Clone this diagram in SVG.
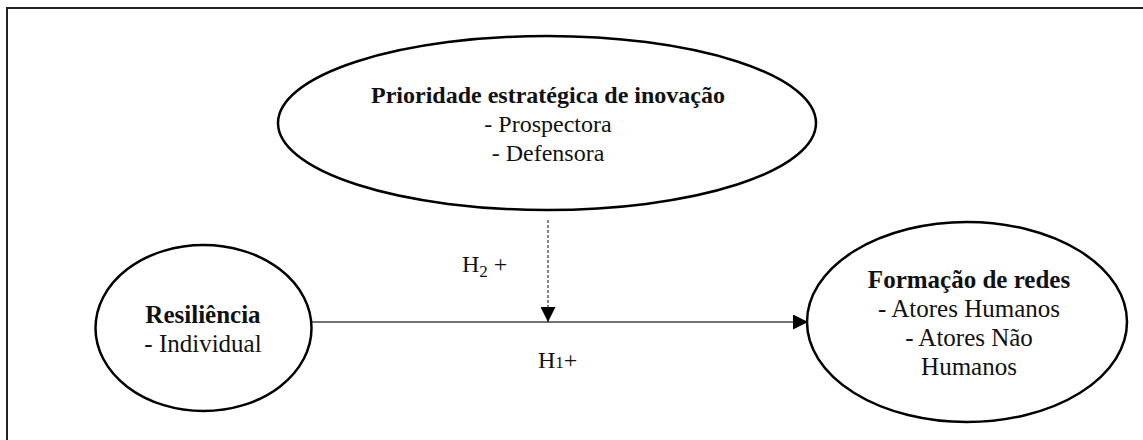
<svg xmlns="http://www.w3.org/2000/svg" width="1143" height="440" viewBox="0 0 1143 440">
<style>
.node{fill:#fff;stroke:#000;stroke-width:2.5}
.t{font-family:"Liberation Serif","Times New Roman",serif;font-size:24px;fill:#111;text-anchor:middle}
.l{font-size:25px}
.b{font-weight:bold}
.conn{stroke:#444;stroke-width:1.4;fill:none}
.dash{stroke:#333;stroke-width:1.2;stroke-dasharray:3,2;fill:none}
</style>
<defs>
<marker id="arr" viewBox="0 0 10 10" refX="10" refY="5" markerWidth="15" markerHeight="15" markerUnits="userSpaceOnUse" orient="auto">
<path d="M0,0 L10,5 L0,10 Z" fill="#000"/>
</marker>
</defs>
<rect width="1143" height="440" fill="#fff"/>
<rect x="7" y="8" width="1150" height="450" fill="none" stroke="#222" stroke-width="2"/>
<g id="connectors">
<line class="conn" x1="312" y1="322" x2="808" y2="322" marker-end="url(#arr)"/>
<line class="dash" x1="548" y1="220" x2="548" y2="322" marker-end="url(#arr)"/>
<text class="t" x="462" y="272" style="text-anchor:start">H<tspan font-size="17" dy="5">2</tspan><tspan dy="-5"> +</tspan></text>
<text class="t" x="538" y="368" style="text-anchor:start">H<tspan font-size="17">1</tspan>+</text>
</g>
<g id="node-prioridade">
<ellipse class="node" cx="547" cy="123" rx="269" ry="87"/>
<text class="t b" x="548" y="103">Prioridade estratégica de inovação</text>
<text class="t" x="548" y="132">- Prospectora</text>
<text class="t" x="548" y="161">- Defensora</text>
</g>
<g id="node-resiliencia">
<ellipse class="node" cx="203.5" cy="328" rx="108" ry="83"/>
<text class="t l b" x="203" y="323">Resiliência</text>
<text class="t l" x="203" y="352">- Individual</text>
</g>
<g id="node-formacao">
<ellipse class="node" cx="967" cy="322" rx="160" ry="100"/>
<text class="t l b" x="969" y="288">Formação de redes</text>
<text class="t l" x="969" y="317">- Atores Humanos</text>
<text class="t l" x="969" y="346">- Atores Não</text>
<text class="t l" x="969" y="375">Humanos</text>
</g>
</svg>
